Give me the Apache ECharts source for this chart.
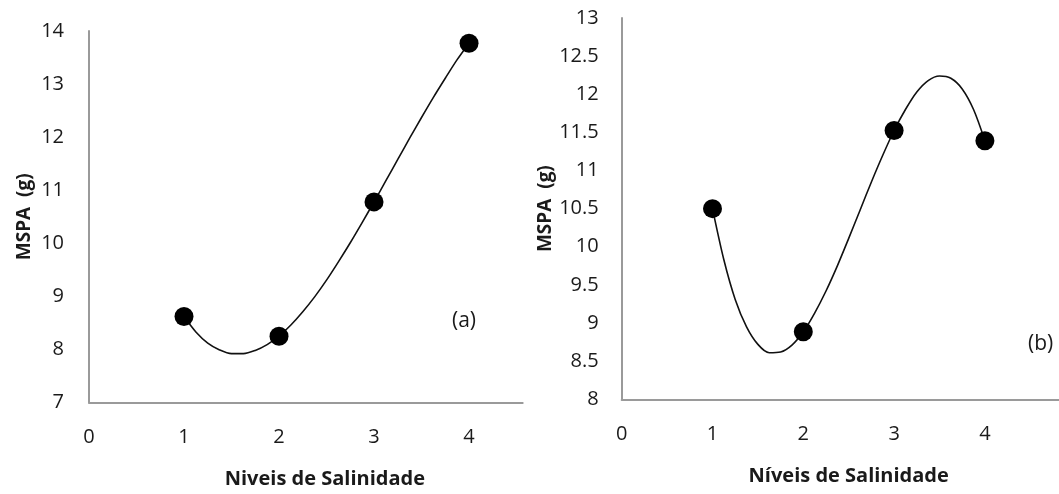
<!DOCTYPE html>
<html>
<head>
<meta charset="utf-8">
<script src="https://cdn.jsdelivr.net/npm/echarts@6/dist/echarts.min.js"></script>
<style>
  html, body { margin: 0; padding: 0; background: #ffffff; }
  #chart { width: 1059px; height: 494px; }
</style>
</head>
<body>
<div id="chart"></div>
<script>
// Salinity levels of the measured points
const salinityLevels = [1, 2, 3, 4];
// MSPA (g) measured, panel (a) and panel (b)
const mspaA = [8.62, 8.25, 10.78, 13.77];
const mspaB = [10.50, 8.885, 11.525, 11.39];
// Trend curve samples
const trendX = [1, 1.125, 1.25, 1.375, 1.5, 1.625, 1.75, 1.875, 2, 2.125, 2.25, 2.375, 2.5,
                2.625, 2.75, 2.875, 3, 3.125, 3.25, 3.375, 3.5, 3.625, 3.75, 3.875, 4];
const trendA = [8.62, 8.33, 8.12, 7.99, 7.92, 7.92, 7.98, 8.09, 8.25, 8.46, 8.71, 8.99, 9.305,
                9.65, 10.01, 10.39, 10.78, 11.18, 11.58, 11.98, 12.37, 12.75, 13.11, 13.46, 13.77];
const trendB = [10.50, 9.83, 9.31, 8.95, 8.72, 8.61, 8.62, 8.71, 8.885, 9.13, 9.42, 9.75, 10.11,
                10.48, 10.85, 11.20, 11.525, 11.80, 12.03, 12.18, 12.24, 12.21, 12.07, 11.80, 11.39];
// Texts
const xTitleA = 'Niveis de Salinidade';
const xTitleB = 'Níveis de Salinidade';
const yTitle = 'MSPA  (g)';
const panelTags = ['(a)', '(b)'];

const FONT = 'Open Sans';
const TXT = '#1a1a1a';
const AX = '#9a9a9a';

function pairs(xs, ys) { return xs.map((x, i) => [x, ys[i]]); }

function xAxisCfg(gridIndex, max, name, padLeft) {
  return {
    type: 'value', gridIndex: gridIndex, min: 0, max: max, interval: 1,
    name: name, nameLocation: 'middle', nameGap: 67,
    nameTextStyle: { fontFamily: FONT, fontSize: 20, fontWeight: 'bold', color: TXT, padding: [0, 0, 0, padLeft] },
    axisLine: { show: true, onZero: false, lineStyle: { color: AX, width: 2 } },
    axisTick: { show: false },
    splitLine: { show: false },
    axisLabel: { fontFamily: FONT, fontSize: 20, color: TXT, margin: 25, showMaxLabel: max === 5 }
  };
}
function yAxisCfg(gridIndex, min, max, interval, gap, lblMargin) {
  return {
    type: 'value', gridIndex: gridIndex, min: min, max: max, interval: interval,
    name: yTitle, nameLocation: 'middle', nameGap: gap, nameRotate: 90,
    nameTextStyle: { fontFamily: FONT, fontSize: 19, fontWeight: 'bold', color: TXT },
    axisLine: { show: true, lineStyle: { color: AX, width: 2 } },
    axisTick: { show: false },
    splitLine: { show: false },
    axisLabel: { fontFamily: FONT, fontSize: 20, color: TXT, margin: lblMargin }
  };
}

const chart = echarts.init(document.getElementById('chart'), null, { renderer: 'canvas' });
chart.setOption({
  backgroundColor: '#ffffff',
  animation: false,
  grid: [
    { left: 89, top: 31, width: 433.7, height: 371.5, outerBoundsMode: 'none', containLabel: false },
    { left: 621.7, top: 18, width: 454, height: 381.3, outerBoundsMode: 'none', containLabel: false }
  ],
  xAxis: [
    xAxisCfg(0, 4.565, xTitleA, 38),
    xAxisCfg(1, 5, xTitleB, 0)
  ],
  yAxis: [
    yAxisCfg(0, 7, 14, 1, 55, 25),
    yAxisCfg(1, 8, 13, 0.5, 66, 23)
  ],
  graphic: [
    { type: 'text', left: 452, top: 311, style: { text: panelTags[0], fontFamily: FONT, fontSize: 21, fill: TXT } },
    { type: 'text', left: 1028, top: 334, style: { text: panelTags[1], fontFamily: FONT, fontSize: 21, fill: TXT } }
  ],
  series: [
    { type: 'line', xAxisIndex: 0, yAxisIndex: 0, data: pairs(trendX, trendA), smooth: 0.3, showSymbol: false,
      lineStyle: { color: '#111', width: 1.6 }, z: 2 },
    { type: 'scatter', xAxisIndex: 0, yAxisIndex: 0, data: pairs(salinityLevels, mspaA), symbol: 'circle', symbolSize: 19,
      itemStyle: { color: '#000', opacity: 1 }, z: 3 },
    { type: 'line', xAxisIndex: 1, yAxisIndex: 1, data: pairs(trendX, trendB), smooth: 0.3, showSymbol: false,
      lineStyle: { color: '#111', width: 1.6 }, z: 2 },
    { type: 'scatter', xAxisIndex: 1, yAxisIndex: 1, data: pairs(salinityLevels, mspaB), symbol: 'circle', symbolSize: 19,
      itemStyle: { color: '#000', opacity: 1 }, z: 3 }
  ]
});
</script>
</body>
</html>
